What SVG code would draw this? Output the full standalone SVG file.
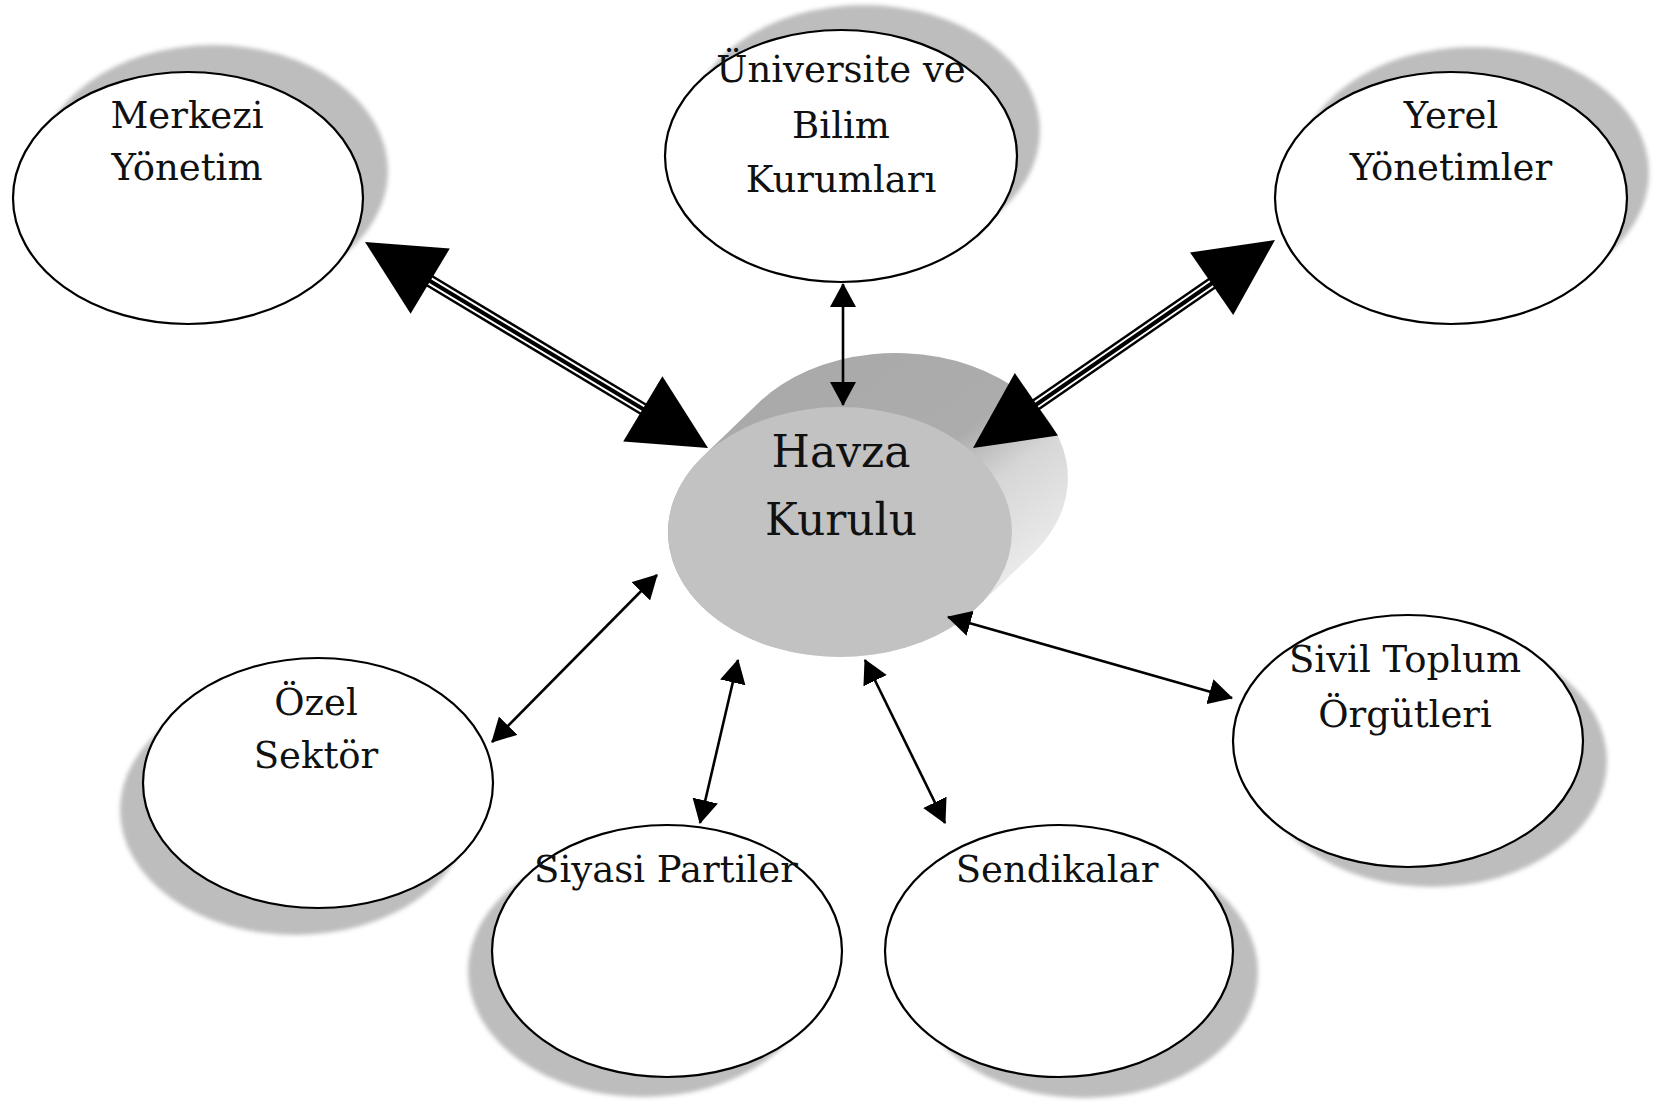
<svg xmlns="http://www.w3.org/2000/svg" width="1661" height="1105" viewBox="0 0 1661 1105">
<style>
.shadow{fill:#bdbdbd;filter:url(#blur)}
.node{fill:#fff;stroke:#000;stroke-width:2.2}
.lbl{font-family:"DejaVu Serif","Liberation Serif",serif;font-size:37px;fill:#111;text-anchor:middle}
.big{font-size:44px}
.thin{stroke:#000;stroke-width:2.6;fill:none;marker-start:url(#ah);marker-end:url(#ah)}
</style>
<defs>
<filter id="blur" x="-10%" y="-10%" width="120%" height="120%"><feGaussianBlur stdDeviation="2"/></filter>
<marker id="ah" viewBox="0 0 24 26" refX="23" refY="13" markerWidth="24" markerHeight="26" markerUnits="userSpaceOnUse" orient="auto-start-reverse">
<path d="M0,0 L24,13 L0,26 Z" fill="#000"/>
</marker>
<linearGradient id="side" x1="0" y1="0" x2="1" y2="1">
<stop offset="0" stop-color="#a8a8a8"/>
<stop offset="0.5" stop-color="#acacac"/>
<stop offset="0.62" stop-color="#d6d6d6"/>
<stop offset="0.85" stop-color="#f0f0f0"/>
<stop offset="1" stop-color="#e4e4e4"/>
</linearGradient>
</defs>
<rect width="1661" height="1105" fill="#fff"/>

<g id="merkezi">
<ellipse class="shadow" cx="213" cy="171" rx="175" ry="126"/>
<ellipse class="node" cx="188" cy="198" rx="175" ry="126"/>
<text class="lbl" x="187" y="128">Merkezi</text>
<text class="lbl" x="187" y="180">Yönetim</text>
</g>

<g id="universite">
<ellipse class="shadow" cx="864" cy="131" rx="176" ry="126"/>
<ellipse class="node" cx="841" cy="156" rx="176" ry="126"/>
<text class="lbl" x="841" y="82">Üniversite ve</text>
<text class="lbl" x="841" y="138">Bilim</text>
<text class="lbl" x="841" y="192">Kurumları</text>
</g>

<g id="yerel">
<ellipse class="shadow" cx="1473" cy="173" rx="176" ry="126"/>
<ellipse class="node" cx="1451" cy="198" rx="176" ry="126"/>
<text class="lbl" x="1451" y="128">Yerel</text>
<text class="lbl" x="1451" y="180">Yönetimler</text>
</g>

<g id="havza">
<path d="M702.6,456.8 L758.6,402.8 A172,125 0 0 1 1033.4,553.2 L977.4,607.2 A172,125 0 0 1 702.6,456.8 Z" fill="url(#side)"/>
<ellipse cx="840" cy="532" rx="172" ry="125" fill="#c2c2c2"/>
<text class="lbl big" x="841" y="467">Havza</text>
<text class="lbl big" x="841" y="535">Kurulu</text>
</g>

<g id="ozel">
<ellipse class="shadow" cx="295" cy="810" rx="175" ry="125"/>
<ellipse class="node" cx="318" cy="783" rx="175" ry="125"/>
<text class="lbl" x="316" y="715">Özel</text>
<text class="lbl" x="316" y="768">Sektör</text>
</g>

<g id="siyasi">
<ellipse class="shadow" cx="643" cy="971" rx="175" ry="126"/>
<ellipse class="node" cx="667" cy="951" rx="175" ry="126"/>
<text class="lbl" x="666" y="882">Siyasi Partiler</text>
</g>

<g id="sendikalar">
<ellipse class="shadow" cx="1084" cy="972" rx="174" ry="126"/>
<ellipse class="node" cx="1059" cy="951" rx="174" ry="126"/>
<text class="lbl" x="1057" y="882">Sendikalar</text>
</g>

<g id="sivil">
<ellipse class="shadow" cx="1432" cy="761" rx="175" ry="126"/>
<ellipse class="node" cx="1408" cy="741" rx="175" ry="126"/>
<text class="lbl" x="1405" y="672">Sivil Toplum</text>
<text class="lbl" x="1405" y="727">Örgütleri</text>
</g>

<g id="connectors">
<!-- Merkezi <-> Havza -->
<g>
<line x1="425" y1="278" x2="648" y2="412" stroke="#000" stroke-width="13"/>
<line x1="425" y1="278" x2="648" y2="412" stroke="#fff" stroke-width="8"/>
<line x1="425" y1="278" x2="648" y2="412" stroke="#000" stroke-width="4"/>
<polygon points="365,242 449.8,248.5 410.6,313.7" fill="#000"/>
<polygon points="708,448 662.4,376.3 623.2,441.5" fill="#000"/>
</g>
<!-- Yerel <-> Havza -->
<g>
<line x1="1216" y1="280.5" x2="1032" y2="407.5" stroke="#000" stroke-width="13"/>
<line x1="1216" y1="280.5" x2="1032" y2="407.5" stroke="#fff" stroke-width="8"/>
<line x1="1216" y1="280.5" x2="1032" y2="407.5" stroke="#000" stroke-width="4"/>
<polygon points="1275,240 1190,252.4 1233.2,315" fill="#000"/>
<polygon points="973,448 1014.8,373 1058,435.6" fill="#000"/>
</g>
<line class="thin" x1="843" y1="284" x2="843" y2="405"/>
<line class="thin" x1="657" y1="575" x2="492" y2="742"/>
<line class="thin" x1="738" y1="660" x2="700" y2="823"/>
<line class="thin" x1="865" y1="660" x2="945" y2="823"/>
<line class="thin" x1="948" y1="617" x2="1232" y2="698"/>
</g>
</svg>
